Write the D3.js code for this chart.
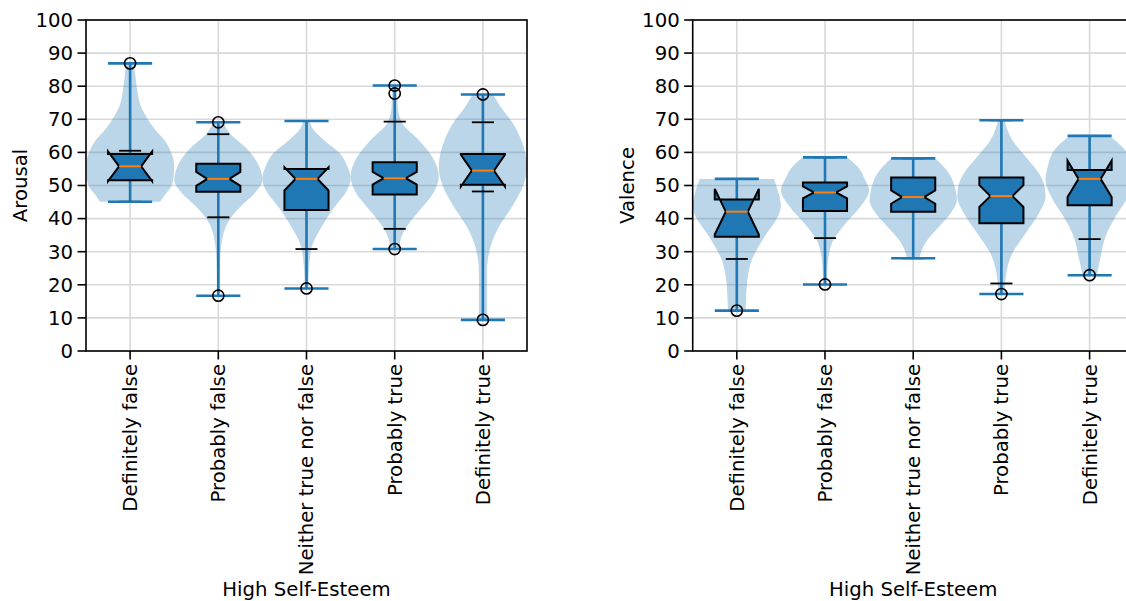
<!DOCTYPE html>
<html>
<head>
<meta charset="utf-8">
<script src="https://cdn.jsdelivr.net/npm/d3@7"></script>
<style>
  body { margin: 0; background: #fff; }
  text { font-family: "DejaVu Sans", sans-serif; fill: #000; }
</style>
</head>
<body>
<svg id="chart" width="1126" height="601"></svg>
<script>
// Response categories on the x axis
const categories = ["Definitely false", "Probably false", "Neither true nor false", "Probably true", "Definitely true"];
const yTicks = [0, 10, 20, 30, 40, 50, 60, 70, 80, 90, 100];
const xTitle = "High Self-Esteem";

// ---- Arousal ----
const arousalMin = [45.1, 16.7, 18.9, 30.8, 9.4];
const arousalMax = [86.9, 69.1, 69.5, 80.2, 77.5];
const arousalQ1 = [51.6, 48.1, 42.6, 47.3, 50.2];
const arousalMedian = [55.8, 52.0, 52.0, 52.2, 54.5];
const arousalQ3 = [59.5, 56.6, 55.0, 57.0, 59.5];
const arousalNotch = [[51.3, 60.3], [49.9, 54.1], [48.5, 55.5], [50.3, 54.1], [49.7, 59.3]];
const arousalCaps = [[45.1, 60.5], [40.4, 65.5], [30.8, 69.5], [36.9, 69.3], [48.2, 69.1]];
const arousalFliers = [[86.9], [69.1, 16.7], [18.9], [80.2, 77.8, 30.8], [77.5, 9.4]];
// kernel density profile: [value, width relative to the widest point]
const arousalDensity = [
  [[45.1,0.68],[47,0.78],[49,0.9],[52,0.98],[56,1.0],[60,0.93],[63.7,0.78],[67,0.56],[70.5,0.38],[74,0.24],[78,0.17],[82,0.13],[86.9,0.09]],
  [[16.7,0.03],[25,0.04],[30,0.05],[33,0.08],[35.6,0.12],[39.6,0.25],[43.6,0.5],[47.6,0.82],[51.7,1.0],[55,0.95],[57.7,0.85],[61.7,0.6],[65.5,0.28],[69.1,0.11]],
  [[18.9,0.04],[25.5,0.06],[31.5,0.12],[37.5,0.34],[43.6,0.64],[48.6,0.92],[52.2,1.0],[55.7,0.93],[59.8,0.75],[63.7,0.4],[67,0.15],[69.5,0.07]],
  [[30.8,0.11],[33.5,0.13],[37.5,0.27],[42.6,0.57],[47.6,0.87],[52.7,1.0],[58.7,0.85],[63.7,0.55],[68.8,0.17],[73.8,0.07],[80.2,0.05]],
  [[9.4,0.1],[13.4,0.09],[23.5,0.09],[31.5,0.17],[37.5,0.36],[43.6,0.66],[50.6,0.93],[55.7,1.0],[63.7,0.87],[68.8,0.68],[73.8,0.4],[77.5,0.23]]
];

// ---- Valence ----
const valenceMin = [12.2, 20.1, 28.0, 17.2, 22.9];
const valenceMax = [52.0, 58.5, 58.2, 69.7, 65.0];
const valenceQ1 = [34.5, 42.3, 42.1, 38.6, 44.0];
const valenceMedian = [42.1, 47.9, 46.5, 46.8, 52.0];
const valenceQ3 = [45.8, 50.9, 52.4, 52.4, 54.7];
const valenceNotch = [[35.2, 49.0], [46.1, 49.7], [44.5, 48.5], [43.5, 50.1], [46.5, 57.5]];
const valenceCaps = [[27.8, 52.0], [34.1, 58.5], [28.0, 58.2], [20.4, 69.7], [33.8, 65.0]];
const valenceFliers = [[12.2], [20.1], [], [17.2], [22.9]];
const valenceDensity = [
  [[12.2,0.2],[15.4,0.21],[21.5,0.24],[27.5,0.34],[31.5,0.49],[35.6,0.68],[39.6,0.89],[43.6,1.0],[47.6,0.95],[52.0,0.84]],
  [[20.1,0.04],[23.5,0.05],[28.5,0.08],[33.5,0.19],[38.6,0.47],[43.6,0.8],[48.6,1.0],[51.7,0.91],[55.7,0.74],[58.5,0.5]],
  [[28.0,0.14],[29.5,0.17],[33.5,0.32],[37.5,0.58],[41.6,0.85],[45.6,0.99],[48.6,0.96],[53.7,0.81],[58.2,0.5]],
  [[17.2,0.07],[23.5,0.11],[29.5,0.25],[35.6,0.55],[41.6,0.85],[46.6,1.0],[49.6,0.98],[53.7,0.85],[58.7,0.55],[63.7,0.25],[69.7,0.07]],
  [[22.9,0.16],[28.5,0.25],[34.5,0.36],[40.6,0.59],[46.6,0.87],[51.7,1.0],[55.7,0.95],[60.7,0.8],[65.0,0.45]]
];

const C0 = "#1f77b4", C1 = "#ff7f0e";
const svg = d3.select("#chart");
const FS = 19.7;

function drawPanel(opt) {
  const { left, right, top, bottom, yTitle, mins, maxs, q1, med, q3, notch, caps, fliers, density } = opt;
  const g = svg.append("g");
  const x = d3.scalePoint().domain(categories).range([left, right]).padding(0.5);
  const step = x.step();
  const y = d3.scaleLinear().domain([0, 100]).range([bottom, top]);
  const boxW = step * 0.5;

  // grid
  g.append("g").selectAll("line.h").data(yTicks).join("line")
    .attr("x1", left).attr("x2", right).attr("y1", d => y(d)).attr("y2", d => y(d))
    .attr("stroke", "#d9d9d9").attr("stroke-width", 1.6);
  g.append("g").selectAll("line.v").data(categories).join("line")
    .attr("x1", d => x(d)).attr("x2", d => x(d)).attr("y1", top).attr("y2", bottom)
    .attr("stroke", "#d9d9d9").attr("stroke-width", 1.6);

  // violin bodies
  categories.forEach((c, i) => {
    const cx = x(c);
    const half = step * 0.5;
    const area = d3.area()
      .y(d => y(d[0]))
      .x0(d => cx - d[1] * half)
      .x1(d => cx + d[1] * half)
      .curve(d3.curveMonotoneY);
    g.append("path").attr("d", area(density[i]))
      .attr("fill", C0).attr("fill-opacity", 0.3).attr("stroke", "none");
  });

  // violin centre bar
  categories.forEach((c, i) => {
    const cx = x(c);
    g.append("line").attr("x1", cx).attr("x2", cx).attr("y1", y(mins[i])).attr("y2", y(maxs[i]))
      .attr("stroke", C0).attr("stroke-width", 2.6);
  });

  // notched boxes
  categories.forEach((c, i) => {
    const cx = x(c);
    const bl = cx - boxW / 2, br = cx + boxW / 2;
    const nl = cx - boxW / 4, nr = cx + boxW / 4;
    const pts = [
      [bl, q1[i]], [br, q1[i]], [br, notch[i][0]], [nr, med[i]], [br, notch[i][1]], [br, q3[i]],
      [bl, q3[i]], [bl, notch[i][1]], [nl, med[i]], [bl, notch[i][0]], [bl, q1[i]]
    ];
    const line = d3.line().x(d => d[0]).y(d => y(d[1]));
    g.append("path").attr("d", line(pts) + "Z")
      .attr("fill", C0).attr("stroke", "#000").attr("stroke-width", 2).attr("stroke-linejoin", "miter");
    g.append("line").attr("x1", nl).attr("x2", nr).attr("y1", y(med[i])).attr("y2", y(med[i]))
      .attr("stroke", C1).attr("stroke-width", 2);
    // whisker caps
    const cw = boxW / 4;
    caps[i].forEach(v => {
      g.append("line").attr("x1", cx - cw).attr("x2", cx + cw).attr("y1", y(v)).attr("y2", y(v))
        .attr("stroke", "#000").attr("stroke-width", 1.8);
    });
  });

  // violin extrema bars, kept on top of coinciding caps
  categories.forEach((c, i) => {
    const cx = x(c), bw = step * 0.25;
    [mins[i], maxs[i]].forEach(v => {
      g.append("line").attr("x1", cx - bw).attr("x2", cx + bw).attr("y1", y(v)).attr("y2", y(v))
        .attr("stroke", C0).attr("stroke-width", 2.6);
    });
  });

  // outliers
  categories.forEach((c, i) => {
    fliers[i].forEach(v => {
      g.append("circle").attr("cx", x(c)).attr("cy", y(v)).attr("r", 5.6)
        .attr("fill", "none").attr("stroke", "#000").attr("stroke-width", 1.6);
    });
  });

  // frame
  g.append("rect").attr("x", left).attr("y", top).attr("width", right - left).attr("height", bottom - top)
    .attr("fill", "none").attr("stroke", "#000").attr("stroke-width", 1.6);

  // y ticks
  const yt = g.append("g");
  yt.selectAll("line").data(yTicks).join("line")
    .attr("x1", left - 8.5).attr("x2", left).attr("y1", d => y(d)).attr("y2", d => y(d))
    .attr("stroke", "#000").attr("stroke-width", 1.6);
  yt.selectAll("text").data(yTicks).join("text")
    .attr("x", left - 13).attr("y", d => y(d)).attr("dy", "0.35em")
    .attr("text-anchor", "end").attr("font-size", FS).text(d => d);

  // x ticks
  const xt = g.append("g");
  xt.selectAll("line").data(categories).join("line")
    .attr("x1", d => x(d)).attr("x2", d => x(d)).attr("y1", bottom).attr("y2", bottom + 8.5)
    .attr("stroke", "#000").attr("stroke-width", 1.6);
  xt.selectAll("text").data(categories).join("text")
    .attr("transform", d => `translate(${x(d)},${bottom + 13}) rotate(-90)`)
    .attr("dy", "0.35em").attr("text-anchor", "end").attr("font-size", FS).text(d => d);

  // titles
  g.append("text").attr("x", (left + right) / 2).attr("y", bottom + 245)
    .attr("text-anchor", "middle").attr("font-size", FS).text(xTitle);
  g.append("text").attr("transform", `translate(${left - 59},${(top + bottom) / 2}) rotate(-90)`)
    .attr("text-anchor", "middle").attr("font-size", FS).text(yTitle);
}

drawPanel({
  left: 86, right: 527, top: 20, bottom: 351, yTitle: "Arousal",
  mins: arousalMin, maxs: arousalMax, q1: arousalQ1, med: arousalMedian, q3: arousalQ3,
  notch: arousalNotch, caps: arousalCaps, fliers: arousalFliers, density: arousalDensity
});
drawPanel({
  left: 692.7, right: 1133.7, top: 20, bottom: 351, yTitle: "Valence",
  mins: valenceMin, maxs: valenceMax, q1: valenceQ1, med: valenceMedian, q3: valenceQ3,
  notch: valenceNotch, caps: valenceCaps, fliers: valenceFliers, density: valenceDensity
});
</script>
</body>
</html>
